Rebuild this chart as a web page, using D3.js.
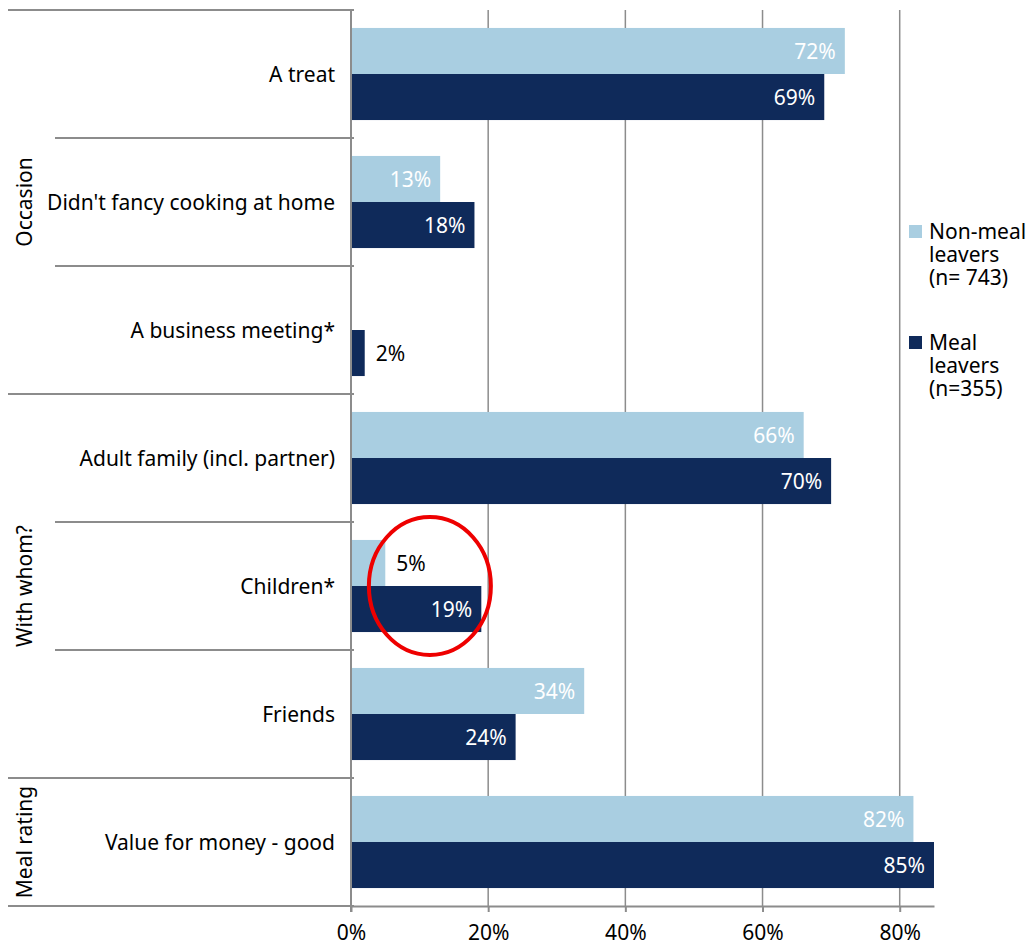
<!DOCTYPE html>
<html>
<head>
<meta charset="utf-8">
<script src="https://cdn.jsdelivr.net/npm/d3@7"></script>
<style>
  html, body { margin: 0; padding: 0; background: #fff; }
  svg text { font-family: "Noto Sans", "DejaVu Sans", Verdana, sans-serif; }
</style>
</head>
<body>
<svg id="chart" width="1029" height="948"></svg>
<script>
// Reasons for the visit, split by meal leavers vs. non-meal leavers
const categories = [
  "A treat",
  "Didn't fancy cooking at home",
  "A business meeting*",
  "Adult family (incl. partner)",
  "Children*",
  "Friends",
  "Value for money - good"
];
const nonMealLeavers = [72, 13, null, 66, 5, 34, 82];
const mealLeavers    = [69, 18, 2, 70, 19, 24, 85];
const seriesNames = ["Non-meal leavers (n= 743)", "Meal leavers (n=355)"];
const legendLines = [["Non-meal", "leavers", "(n= 743)"], ["Meal", "leavers", "(n=355)"]];
const groups = [
  { name: "Occasion",   first: 0, last: 2 },
  { name: "With whom?", first: 3, last: 5 },
  { name: "Meal rating", first: 6, last: 6 }
];
const xTicks = [0, 20, 40, 60, 80];
const highlighted = "Children*";

const colors = ["#a9cee1", "#0f2a5a"];
const gridColor = "#8c8c8c";
const fontSize = 21;

const svg = d3.select("#chart");
const plotLeft = 351, plotRight = 934, plotTop = 10, plotBottom = 906;

const x = d3.scaleLinear().domain([0, 85]).range([plotLeft, plotRight]);
const y = d3.scaleBand().domain(categories).range([plotTop, plotBottom]).padding(0);
const ySub = d3.scaleBand().domain([0, 1]).range([0, y.bandwidth()])
  .paddingInner(0).paddingOuter(0.39);

// vertical gridlines
svg.append("g").selectAll("line").data(xTicks.filter(d => d > 0)).join("line")
  .attr("x1", d => x(d)).attr("x2", d => x(d))
  .attr("y1", plotTop).attr("y2", plotBottom)
  .attr("stroke", gridColor).attr("stroke-width", 1.5);

// bars
const rows = categories.map((c, i) => ({ c, vals: [nonMealLeavers[i], mealLeavers[i]] }));
const bars = [];
rows.forEach(r => r.vals.forEach((v, s) => { if (v != null) bars.push({ c: r.c, s, v }); }));

svg.append("g").selectAll("rect").data(bars).join("rect")
  .attr("x", x(0))
  .attr("y", d => y(d.c) + ySub(d.s))
  .attr("width", d => x(d.v) - x(0))
  .attr("height", ySub.bandwidth())
  .attr("fill", d => colors[d.s]);

// value labels: inside the bar end, or just outside for short bars
svg.append("g").selectAll("text").data(bars).join("text")
  .attr("x", d => d.v < 8 ? x(d.v) + 11 : x(d.v) - 9)
  .attr("y", d => y(d.c) + ySub(d.s) + ySub.bandwidth() / 2)
  .attr("dy", "0.36em")
  .attr("text-anchor", d => d.v < 8 ? "start" : "end")
  .attr("fill", d => d.v < 8 ? "#000" : "#fff")
  .attr("font-size", fontSize)
  .text(d => d.v + "%");

// bottom axis
const xAxis = d3.axisBottom(x).tickValues(xTicks).tickFormat(d => d + "%")
  .tickSize(6).tickSizeOuter(0);
const gx = svg.append("g").attr("transform", `translate(0,${plotBottom})`).call(xAxis);
gx.select(".domain").attr("stroke", gridColor).attr("stroke-width", 2);
gx.selectAll(".tick line").attr("stroke", gridColor).attr("stroke-width", 2);
gx.selectAll(".tick text").attr("font-size", fontSize).attr("fill", "#000")
  .attr("y", 19).attr("font-family", "Noto Sans, DejaVu Sans, sans-serif");

// category axis line
svg.append("line")
  .attr("x1", plotLeft).attr("x2", plotLeft).attr("y1", plotTop).attr("y2", plotBottom + 6)
  .attr("stroke", gridColor).attr("stroke-width", 2);

// category separators: full-width at group boundaries, short within groups
const boundaries = d3.range(categories.length + 1).map(i => {
  const yy = i < categories.length ? y(categories[i]) : plotBottom;
  const isGroupEdge = groups.some(g => g.first === i || g.last + 1 === i);
  return { yy, x0: isGroupEdge ? 8 : 55 };
});
svg.append("g").selectAll("line").data(boundaries).join("line")
  .attr("x1", d => d.x0).attr("x2", plotLeft + 3)
  .attr("y1", d => d.yy).attr("y2", d => d.yy)
  .attr("stroke", gridColor).attr("stroke-width", 2);

// category labels
svg.append("g").selectAll("text").data(categories).join("text")
  .attr("x", plotLeft - 16)
  .attr("y", d => y(d) + y.bandwidth() / 2)
  .attr("dy", "0.36em")
  .attr("text-anchor", "end")
  .attr("font-size", fontSize)
  .attr("fill", "#000")
  .text(d => d);

// group labels (rotated)
svg.append("g").selectAll("text").data(groups).join("text")
  .attr("transform", g => {
    const cy = (y(categories[g.first]) + y(categories[g.last]) + y.bandwidth()) / 2;
    return `translate(24,${cy}) rotate(-90)`;
  })
  .attr("dy", "0.36em")
  .attr("text-anchor", "middle")
  .attr("font-size", fontSize)
  .attr("fill", "#000")
  .text(g => g.name);

// legend (three stacked lines per entry)
const legend = svg.append("g").attr("transform", "translate(909,225)");
const legendItems = legend.selectAll("g").data(seriesNames).join("g")
  .attr("transform", (d, i) => `translate(0,${i * 111})`);
legendItems.append("rect").attr("width", 13).attr("height", 13)
  .attr("fill", (d, i) => colors[i]);
legendItems.each(function(d, i) {
  const t = d3.select(this).append("text")
    .attr("x", 20).attr("y", 6.5).attr("font-size", fontSize).attr("fill", "#000");
  legendLines[i].forEach((line, k) => {
    t.append("tspan").attr("x", 20).attr("dy", k === 0 ? "0.36em" : 23).text(line);
  });
});

// highlight ring around the Children* bars
svg.append("ellipse")
  .attr("cx", x(11.5))
  .attr("cy", y(highlighted) + y.bandwidth() / 2)
  .attr("rx", 61).attr("ry", 69)
  .attr("fill", "none").attr("stroke", "#ee0000").attr("stroke-width", 4);
</script>
</body>
</html>
